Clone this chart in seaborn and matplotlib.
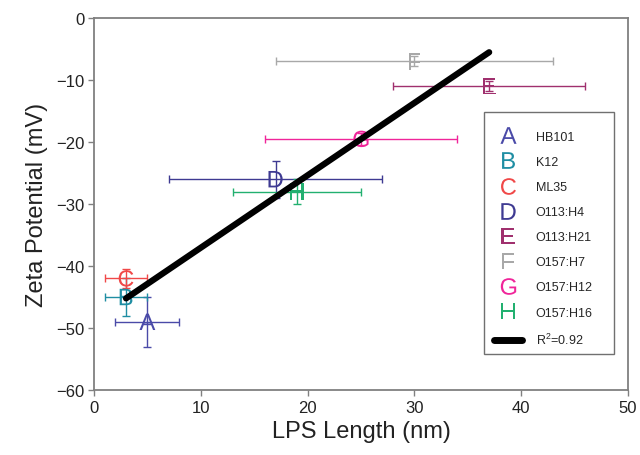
import numpy as np
import pandas as pd
import matplotlib
matplotlib.use("Agg")
import matplotlib.pyplot as plt
from matplotlib.lines import Line2D
from matplotlib.patches import Rectangle
import seaborn as sns

# Strain data: LPS length (nm) vs zeta potential (mV), with error bars
letters = ["A", "B", "C", "D", "E", "F", "G", "H"]
strains = ["HB101", "K12", "ML35", "O113:H4", "O113:H21", "O157:H7", "O157:H12", "O157:H16"]
lps_length = [5, 3, 3, 17, 37, 30, 25, 19]
lps_err = [3, 2, 2, 10, 9, 13, 9, 6]
zeta = [-49, -45, -42, -26, -11, -7, -19.5, -28]
zeta_err = [4, 3, 1.5, 3, 0.8, 0.8, 1, 2]
colors = ["#4a4aa8", "#1f8ea3", "#f04848", "#3e3a92", "#a0306e", "#a8a8a8", "#f0259a", "#22b070"]
r2_label = "R$^2$=0.92"

df = pd.DataFrame({"letter": letters, "strain": strains, "x": lps_length,
                   "xerr": lps_err, "y": zeta, "yerr": zeta_err})

sns.set_theme(style="white")
plt.rcParams["font.family"] = ["Liberation Sans", "DejaVu Sans"]
plt.rcParams["mathtext.fontset"] = "custom"
plt.rcParams["mathtext.rm"] = "Liberation Sans"
plt.rcParams["mathtext.it"] = "Liberation Sans"

fig = plt.figure(figsize=(6.4, 4.56), dpi=100)
ax = fig.add_axes([94 / 640, 1 - 391 / 456, (628 - 94) / 640, (391 - 19) / 456])

palette = dict(zip(strains, colors))
markers = {s: r"$\mathrm{%s}$" % l for s, l in zip(strains, letters)}

# error bars
for _, r in df.iterrows():
    ax.errorbar(r["x"], r["y"], xerr=r["xerr"], yerr=r["yerr"], fmt="none",
                ecolor=palette[r["strain"]], elinewidth=1.0, capsize=3,
                capthick=1.0, zorder=2)

# letter markers
sns.scatterplot(data=df, x="x", y="y", hue="strain", style="strain",
                palette=palette, markers=markers, s=140, linewidth=0,
                legend=False, ax=ax, zorder=3)

# linear fit
sns.regplot(data=df, x="x", y="y", scatter=False, ci=None, truncate=True,
            line_kws={"color": "black", "lw": 4.5, "solid_capstyle": "round",
                      "zorder": 4}, ax=ax)

ax.set_xlim(0, 50)
ax.set_ylim(-60, 0)
ax.set_xticks(np.arange(0, 51, 10))
ax.set_yticks(np.arange(-60, 1, 10))
ax.set_xlabel("LPS Length (nm)", fontsize=17, color="#222222", labelpad=4)
ax.set_ylabel("Zeta Potential (mV)", fontsize=17, color="#222222", labelpad=6)
ax.tick_params(axis="both", labelsize=12, colors="#222222", direction="out",
               length=4, width=1, color="#808080", bottom=True, left=True, pad=3)
for sp in ax.spines.values():
    sp.set_color("#808080")
    sp.set_linewidth(1.3)

# legend frame
ax.add_patch(Rectangle((0.7303, 0.0968), 0.9738 - 0.7303, 0.7473 - 0.0968,
                       transform=ax.transAxes, facecolor="white",
                       edgecolor="#707070", lw=1.0, zorder=5))

handles = [Line2D([], [], linestyle="none", marker=markers[s], markersize=12,
                  markerfacecolor=palette[s], markeredgewidth=0, color=palette[s])
           for s in strains]
handles.append(Line2D([], [], color="black", lw=5, solid_capstyle="round"))
labels = strains + [r2_label]
leg = ax.legend(handles, labels, loc="upper left", bbox_to_anchor=(0.749, 0.697),
                fontsize=9, frameon=False, labelspacing=1.05, handlelength=2.24,
                handletextpad=1.1, borderpad=0, borderaxespad=0)
leg.set_zorder(6)

fig.savefig("out.png", dpi=100)
